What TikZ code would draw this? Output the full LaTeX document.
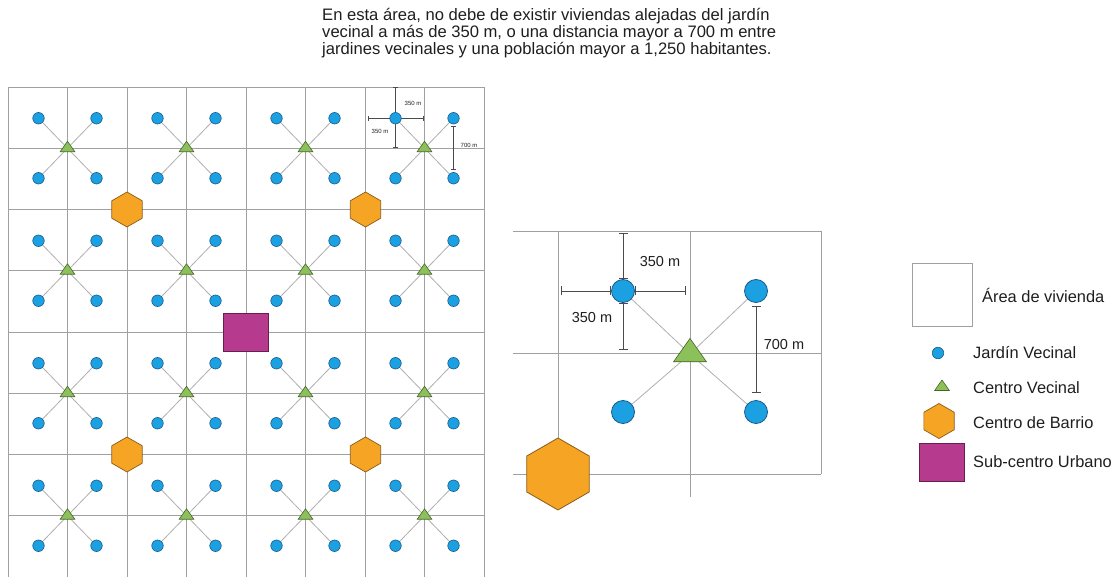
\documentclass[tikz,border=0pt]{standalone}
\usepackage{fontspec}
\setmainfont{Liberation Sans}
\usetikzlibrary{shapes.geometric,arrows.meta,backgrounds}
\definecolor{dotblue}{RGB}{27,160,225}
\definecolor{dotedge}{RGB}{25,90,140}
\definecolor{trigreen}{RGB}{140,192,90}
\definecolor{triedge}{RGB}{70,100,40}
\definecolor{hexorange}{RGB}{245,165,35}
\definecolor{hexedge}{RGB}{140,90,25}
\definecolor{sqmag}{RGB}{182,58,142}
\definecolor{sqedge}{RGB}{105,30,80}
\definecolor{gridgray}{RGB}{160,160,160}
\definecolor{linkgray}{RGB}{175,175,175}
\definecolor{dimgray}{RGB}{75,75,75}
\definecolor{textgray}{RGB}{30,30,30}
\tikzset{
  jardin/.style={circle, fill=dotblue, draw=dotedge, line width=0.6pt, inner sep=0pt, minimum size=11.5pt},
  bigjardin/.style={jardin, minimum size=23pt, line width=0.8pt},
  centro/.style={regular polygon, regular polygon sides=3, fill=trigreen, draw=triedge, line width=0.6pt, inner sep=0pt, minimum size=17pt, yscale=0.82, transform shape},
  bigcentro/.style={centro, minimum size=38pt},
  barrio/.style={regular polygon, regular polygon sides=6, shape border rotate=30, fill=hexorange, draw=hexedge, line width=0.7pt, inner sep=0pt, minimum size=35pt},
  bigbarrio/.style={barrio, minimum size=72pt, line width=0.8pt},
  subcentro/.style={rectangle, fill=sqmag, draw=sqedge, line width=0.7pt, inner sep=0pt, minimum width=45pt, minimum height=38pt},
  legbox/.style={rectangle, draw=gridgray, line width=0.8pt, inner sep=0pt, minimum width=60pt, minimum height=63pt},
  gridline/.style={draw=gridgray, line width=0.8pt},
  link/.style={draw=linkgray, line width=0.8pt},
  dimline/.style={draw=dimgray, line width=0.9pt, {Bar[width=9pt]}-{Bar[width=9pt]}},
  dimsmall/.style={draw=dimgray, line width=0.8pt, {Bar[width=5pt]}-{Bar[width=5pt]}},
  titletext/.style={font=\fontsize{16.6}{16}\selectfont, text=textgray, inner sep=0pt},
  legtext/.style={font=\fontsize{16.4}{18}\selectfont, text=textgray, inner sep=0pt, anchor=west},
  dimtext/.style={font=\fontsize{14.5}{16}\selectfont, text=textgray, inner sep=0pt},
  tinytext/.style={font=\fontsize{6}{7}\selectfont, text=textgray, inner sep=0pt},
}
\begin{document}
\begin{tikzpicture}[x=1pt,y=-1pt]
\useasboundingbox (0,0) rectangle (1119,577);
% title
\node[titletext, anchor=base west] (t1) at (322,20.5) {En esta área, no debe de existir viviendas alejadas del jardín};
\node[titletext, anchor=base west] (t2) at (322,37.5) {vecinal a más de 350 m, o una distancia mayor a 700 m entre};
\node[titletext, anchor=base west] (t3) at (322,54.5) {jardines vecinales y una población mayor a 1,250 habitantes.};
% left grid
\begin{scope}[on background layer]
\foreach \i in {0,...,8} \draw[gridline] ({8+59.5*\i},87) -- ({8+59.5*\i},577);
\foreach \j in {0,...,7} \draw[gridline] (8,{87+61.25*\j}) -- (484,{87+61.25*\j});
\end{scope}
% neighbourhood units
\foreach \a in {0,1,2,3}{
  \foreach \b in {0,1,2,3}{
    \pgfmathsetmacro{\cx}{8+59.5*(2*\a+1)}
    \pgfmathsetmacro{\cy}{87+61.25*(2*\b+1)}
    \node[centro] (tri-\a-\b) at (\cx,\cy) {};
    \node[jardin] (d-\a-\b-1) at (\cx-29,\cy-30) {};
    \node[jardin] (d-\a-\b-2) at (\cx+29,\cy-30) {};
    \node[jardin] (d-\a-\b-3) at (\cx-29,\cy+30) {};
    \node[jardin] (d-\a-\b-4) at (\cx+29,\cy+30) {};
    \begin{scope}[on background layer]
      \foreach \k in {1,2,3,4} \draw[link] (d-\a-\b-\k.center) -- (tri-\a-\b.center);
    \end{scope}
  }
}
\node[barrio] (h1) at (127,209.5) {};
\node[barrio] (h2) at (365.5,209.5) {};
\node[barrio] (h3) at (127,454.5) {};
\node[barrio] (h4) at (365.5,454.5) {};
\node[subcentro] (sq) at (246,332) {};
% small dimensions in top-right unit
\coordinate (s1) at (d-3-0-1 |- 0,87.5);
\coordinate (s2) at (d-3-0-1 |- 0,147.5);
\coordinate (s3) at (368,0 |- d-3-0-1);
\coordinate (s4) at (424,0 |- d-3-0-1);
\begin{scope}[on background layer]
\draw[dimsmall] (s1) -- (s2);
\draw[dimsmall] (s3) -- (s4);
\end{scope}
\draw[dimsmall] ([yshift=-2pt]d-3-0-2.south) -- ([yshift=2pt]d-3-0-4.north);
\node[tinytext] (l1) at (413,103) {350 m};
\node[tinytext] (l2) at (380,131) {350 m};
\node[tinytext] (l3) at (469,145) {700 m};
% enlarged view
\begin{scope}[on background layer]
\draw[gridline] (513,231) -- (821,231);
\draw[gridline] (513,353) -- (821,353);
\draw[gridline] (513,474) -- (821,474);
\draw[gridline] (558,231) -- (558,474);
\draw[gridline] (690,231) -- (690,497);
\draw[gridline] (821,231) -- (821,474);
\end{scope}
\node[bigcentro] (et) at (690,354) {};
\node[bigjardin] (ea) at (623,291) {};
\node[bigjardin] (eb) at (756,291) {};
\node[bigjardin] (ec) at (623,412) {};
\node[bigjardin] (ed) at (756,412) {};
\node[bigbarrio] (eh) at (558,474) {};
\begin{scope}[on background layer]
\foreach \n in {ea,eb,ec,ed} \draw[link] (\n.center) -- (et.center);
\end{scope}
\coordinate (e1) at (623,233);
\coordinate (e2) at (623,350);
\coordinate (e3) at (561,291);
\coordinate (e4) at (686,291);
\draw[dimline] (e1) -- (ea.north);
\draw[dimline] (ea.south) -- (e2);
\draw[dimline] (e3) -- (ea.west);
\draw[dimline] (ea.east) -- (e4);
\draw[dimline] ([yshift=-3.5pt]eb.south) -- ([yshift=7.5pt]ed.north);
\node[dimtext] (el1) at (660,262) {350 m};
\node[dimtext] (el2) at (592,318) {350 m};
\node[dimtext] (el3) at (784,345) {700 m};
% legend
\node[legbox] (lg1) at (942,294.5) {};
\node[legtext] (lt1) at (982,295) {Área de vivienda};
\node[jardin] (lg2) at (938,353) {};
\node[legtext] (lt2) at (973,353) {Jardín Vecinal};
\node[centro] (lg3) at (942,387) {};
\node[legtext] (lt3) at (973,388) {Centro Vecinal};
\node[barrio] (lg4) at (939,421) {};
\node[legtext] (lt4) at (973,423) {Centro de Barrio};
\node[subcentro] (lg5) at (942,462) {};
\node[legtext] (lt5) at (973,462) {Sub-centro Urbano};
\end{tikzpicture}
\end{document}
